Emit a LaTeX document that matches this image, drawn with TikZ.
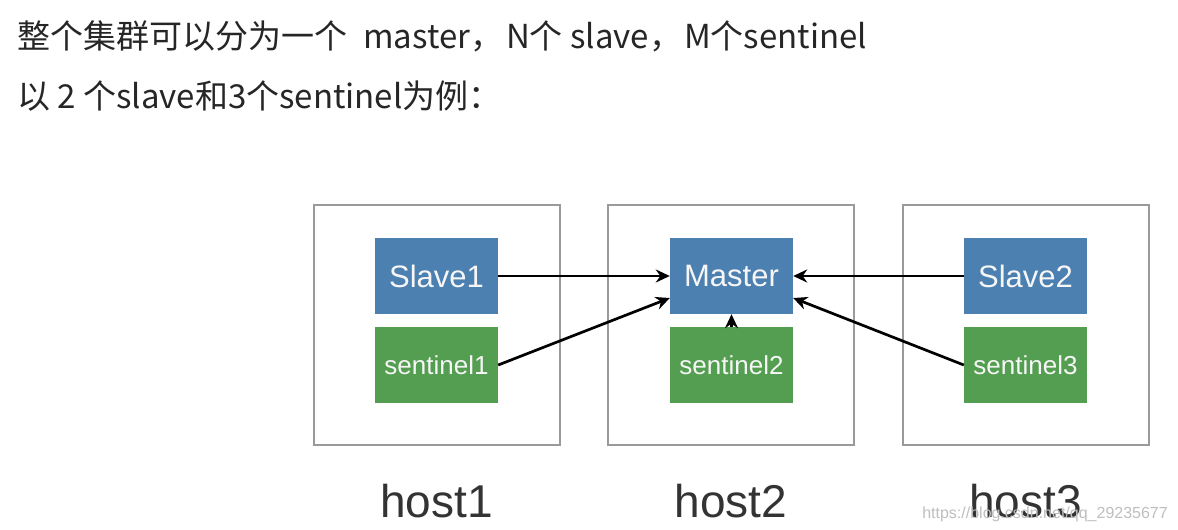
\documentclass[tikz,border=0pt]{standalone}
\usepackage{fontspec}
\setmainfont{Liberation Sans}
\newfontfamily\cjk{Noto Sans CJK SC}
\usetikzlibrary{arrows.meta,calc}
\definecolor{blueboxc}{HTML}{4B80B1}
\definecolor{greenboxc}{HTML}{539E50}
\definecolor{hostline}{HTML}{9A9A9A}
\definecolor{boxtext}{HTML}{F6F6F6}
\begin{document}
\begin{tikzpicture}[x=1pt,y=-1pt,
  hostbox/.style={draw=hostline,line width=2pt,minimum width=246pt,minimum height=240pt,inner sep=0pt},
  bluebox/.style={fill=blueboxc,text=boxtext,minimum width=123pt,minimum height=76pt,inner sep=0pt,font=\fontsize{31}{36}\selectfont},
  greenbox/.style={fill=greenboxc,text=boxtext,minimum width=123pt,minimum height=76pt,inner sep=0pt,font=\fontsize{26}{30}\selectfont},
  hostlabel/.style={anchor=base,font=\fontsize{46}{52}\selectfont,text=black!80},
  conn/.style={line width=2.7pt,-{Stealth[length=14pt,width=13pt]}},
  toptext/.style={anchor=base west,inner sep=0pt,font=\cjk\fontsize{33}{38}\selectfont,text=black!85}]
\useasboundingbox (0,0) rectangle (1178,530);
\fill[white] (0,0) rectangle (1178,530);
\node[toptext] (t1) at (17,48) {整个集群可以分为一个\hspace{16pt}master，\hspace{3pt}N个 slave，\hspace{2pt}M个sentinel};
\node[toptext] (t2) at (17,108) {以 2 个slave和3个sentinel为例：};
\node[hostbox] (h1) at (436.5,325) {};
\node[hostbox] (h2) at (731,325) {};
\node[hostbox] (h3) at (1025.5,325) {};
\node[bluebox] (s1) at (436.5,276) {Slave1};
\node[greenbox] (n1) at (436.5,365) {sentinel1};
\node[bluebox] (m) at (731.5,276) {Master};
\node[greenbox] (n2) at (731.5,365) {sentinel2};
\node[bluebox] (s2) at (1025.5,276) {Slave2};
\node[greenbox] (n3) at (1025.5,365) {sentinel3};
\node[hostlabel] (l1) at (436.5,517) {host1};
\node[hostlabel] (l2) at (731,517) {host2};
\node[hostlabel] (l3) at (1025.5,517) {host3};
\node[anchor=base east,inner sep=0pt,text=black!25,font=\fontsize{16}{18}\selectfont] (wm) at (1168,518) {https://blog.csdn.net/qq\_29235677};
\draw[conn] (s1.east) -- (m.west);
\draw[conn] (n1.east) -- ([yshift=-22pt]m.west);
\draw[conn] (n2.north) -- (m.south);
\draw[conn] (s2.west) -- (m.east);
\draw[conn] (n3.west) -- ([yshift=-22pt]m.east);
\end{tikzpicture}
\end{document}
